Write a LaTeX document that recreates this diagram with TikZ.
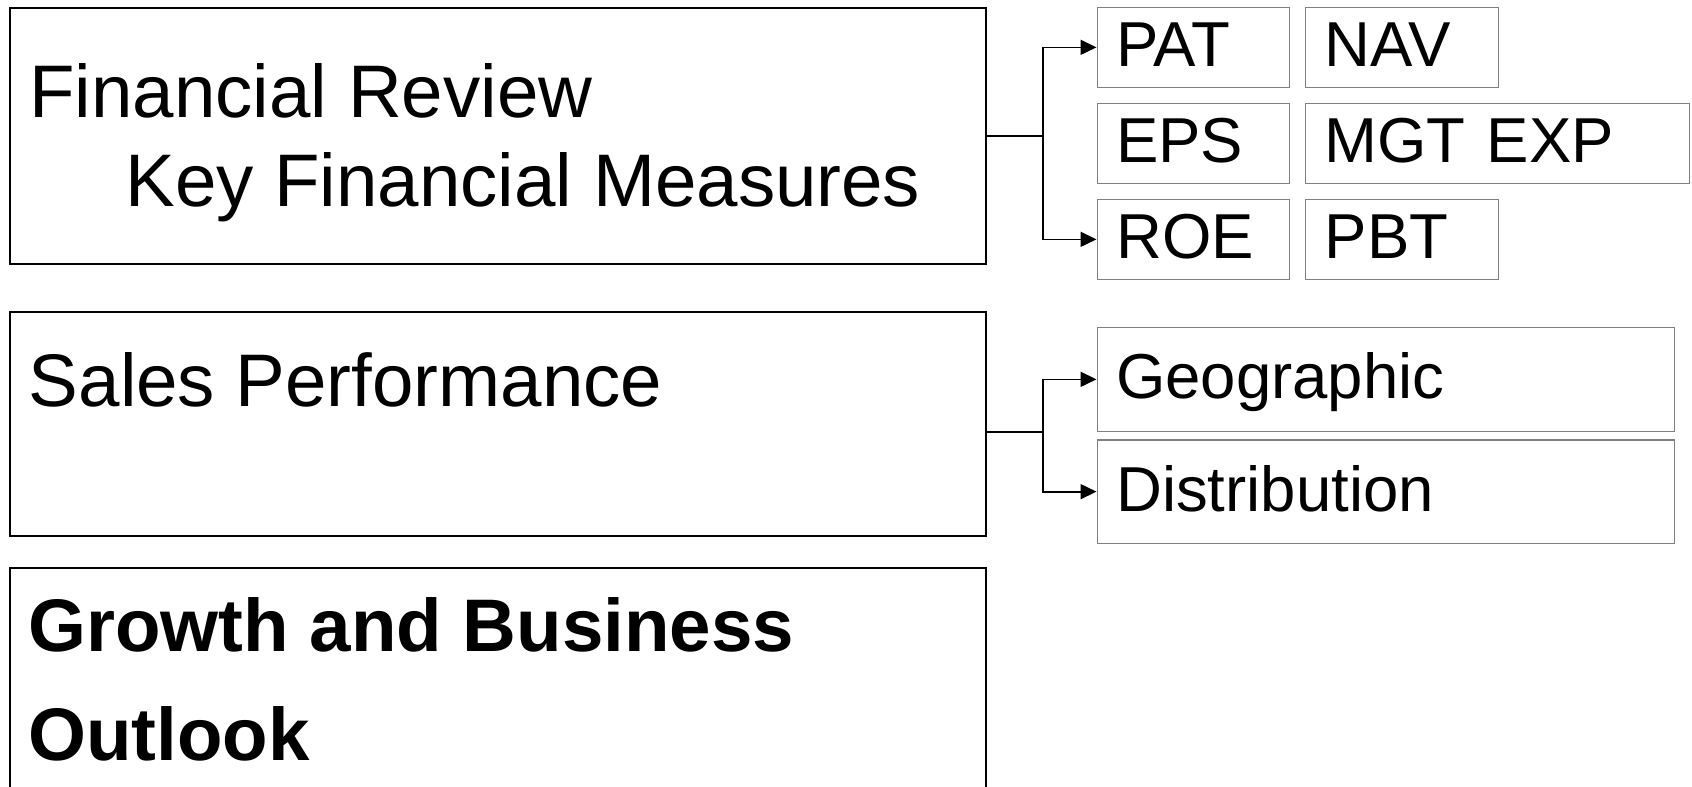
\documentclass[tikz,border=0pt]{standalone}
\usepackage{fontspec}
\setmainfont{Liberation Sans}
\usetikzlibrary{arrows.meta}

\tikzset{
  mainbox/.style={draw=black, line width=1pt, anchor=north west, inner sep=0pt, minimum width=488pt},
  maintext/.style={anchor=base west, inner sep=0pt, font=\fontsize{37.25pt}{44pt}\selectfont},
  boldtext/.style={anchor=base west, inner sep=0pt, font=\fontsize{37.25pt}{44pt}\selectfont\bfseries},
  smallbox/.style={draw=gray, line width=0.65pt, anchor=north west, inner xsep=9.5pt, inner ysep=0pt,
    text width=#1, align=left, text height=22.7pt, text depth=3.2pt, minimum height=40pt,
    font=\fontsize{31.75pt}{38pt}\selectfont},
  conn/.style={draw=black, line width=0.85pt},
  arr/.style={conn, -{Triangle[length=8pt,width=7.5pt]}}
}

\begin{document}
\begin{tikzpicture}[x=0.5pt,y=-0.5pt]

\path[use as bounding box] (0,0) rectangle (1692,787);
\clip (0,0) rectangle (1692,787);

\node[mainbox, minimum height=128pt] (fin) at (9,6.7) {};
\node[maintext] (finline1) at (29,117.3) {Financial Review};
\node[maintext] (finline2) at (125,206.7) {Key Financial Measures};

\node[mainbox, minimum height=112pt] (sales) at (9,311) {};
\node[maintext] (salesline) at (28.5,406.7) {Sales Performance};

\node[mainbox, minimum height=130pt] (growth) at (9,566.7) {};
\node[boldtext] (growthline1) at (28,651.7) {Growth and Business};
\node[boldtext] (growthline2) at (28,760) {Outlook};

\node[smallbox=77.25pt] (pat) at (1096.5,6.7) {PAT};
\node[smallbox=77.25pt] (nav) at (1305,6.7) {NAV};
\node[smallbox=77.25pt] (eps) at (1096.5,102.7) {EPS};
\node[smallbox=173pt] (mgt) at (1305,102.7) {MGT EXP};
\node[smallbox=77.25pt] (roe) at (1096.5,198.7) {ROE};
\node[smallbox=77.25pt] (pbt) at (1305,198.7) {PBT};

\node[smallbox=269.5pt, minimum height=52pt] (geo) at (1096.5,326.7) {Geographic};
\node[smallbox=269.5pt, minimum height=51.7pt] (dist) at (1096.5,439.3) {Distribution};

\draw[conn] (fin.east) -- ++(56,0) coordinate (finsplit);
\draw[arr] (finsplit) |- (pat.west);
\draw[arr] (finsplit) |- (roe.west);

\draw[conn] ([yshift=-4pt]sales.east) -- ++(56,0) coordinate (salessplit);
\draw[arr] (salessplit) |- (geo.west);
\draw[arr] (salessplit) |- (dist.west);

\end{tikzpicture}
\end{document}
